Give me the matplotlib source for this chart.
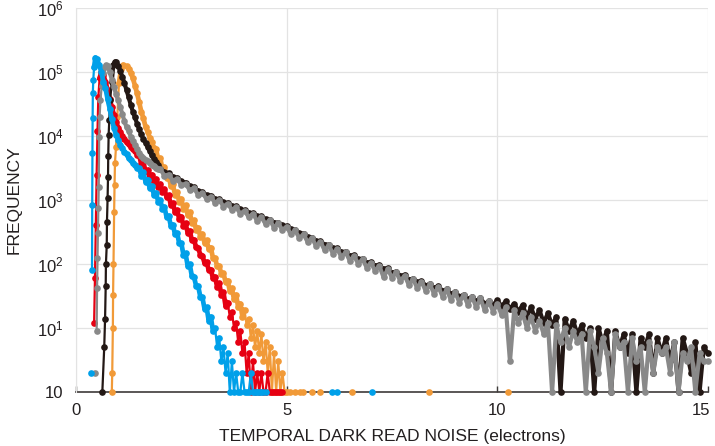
import numpy as np
import matplotlib
matplotlib.use("Agg")
import matplotlib.pyplot as plt
from matplotlib.transforms import ScaledTranslation

nan = np.nan

# ---- data (counts per bin) ----
# blue
blue_rise_x = [0.36, 0.37, 0.38, 0.385, 0.39, 0.395, 0.40, 0.41, 0.43, 0.46]
blue_rise_y = [2, nan, 80, 850, 5400, 19000, 47000, 76000, 120000, 168000]
blue_start, blue_step = 0.50, 0.05
blue_counts = [158000, 128000, 101000, 71000, 56000, 37500, 26800, 18300, 13400, 10300,
               8800, 7300, 6500, 5700, 5200, 4500, 4200, 3750, 3500, 3120,
               3150, 2370, 2700, 1930, 2090, 1530, 1660, 1190, 1290, 945,
               1000, 730, 780, 540, 565, 395, 410, 290, 305, 210,
               210, 140, 146, 94, 99, 64, 63, 46, 45, 31,
               30, 20, 21, 13, 15, 9, 10, 5, 7, 3,
               5, 2, 4, 1, 3, 1, 2, 1, 1, 2,
               1, 1, 1, 2, 1, 1, 1, 1, 1, 1, 1]
blue_lone_x = [6.07, 6.19, 7.02]
blue_lone_y = [1, 1, 1]

# red
red_rise_x = [0.43, 0.45, 0.47, 0.49, 0.51, 0.53, 0.56]
red_rise_y = [12, 60, 400, 2500, 12000, 40000, 80000]
red_start, red_step = 0.60, 0.05
red_counts = [100000, 89000, 71000, 52500, 38000, 28200, 21400, 16600, 13500, 11500,
              10000, 8900, 7950, 7400, 6760, 6300, 5900, 5130, 5000, 3600,
              3900, 2800, 2950, 2200, 2500, 1880, 2140, 1600, 1780, 1330,
              1480, 1110, 1180, 840, 895, 640, 695, 505, 550, 395,
              430, 310, 330, 235, 240, 182, 178, 140, 135, 104,
              108, 80, 82, 60, 63, 44, 50, 33, 36, 22,
              25, 15, 18, 10, 12, 6, 9, 4, 6, 2,
              4, 1, 3, 1, 2, 1, 2, 1, 1, 2,
              1, 1, 1, 1, 1, 1, 1]

# orange
orange_rise_x = [0.85, 0.86, 0.875, 0.88, 0.89, 0.905, 0.915, 0.925, 0.95, 0.98, 1.02, 1.07, 1.12]
orange_rise_y = [1, 2, 10, 33, 100, 660, 1700, 3800, 6800, 20000, 68000, 110000, 129000]
orange_start, orange_step = 1.20, 0.05
orange_counts = [122000, 112000, 97000, 80000, 61000, 46500, 33500, 24000, 18900, 14000,
                 11600, 9400, 8000, 6500, 6200, 4300, 4500, 3100, 3280, 2230,
                 2380, 1650, 1760, 1200, 1310, 930, 1040, 735, 825, 585,
                 645, 440, 480, 340, 370, 265, 295, 215, 235, 170,
                 180, 125, 124, 92, 93, 70, 72, 52, 55, 38,
                 42, 28, 33, 21, 24, 15, 19, 11, 14, 7,
                 11, 5, 9, 4, 8, 3, 6, 2, 5, 1,
                 4, 1, 3, 1, 2, 1]
orange_lone_x = [5.0, 5.08, 5.2, 5.32, 5.39, 5.6, 5.79, 6.54, 8.38, 10.25]
orange_lone_y = [1, 1, 1, 1, 1, 1, 1, 1, 1, 1]

# gray
gray_rise_x = [0.45, 0.47, 0.49, 0.50, 0.51, 0.52, 0.53, 0.54, 0.55, 0.56, 0.58, 0.61, 0.65, 0.68, 0.71]
gray_rise_y = [2, nan, 9, 42, 123, 300, 740, 1600, 9800, 20000, 36000, 60000, 95000, 120000, 129000]
gray_start, gray_step = 0.75, 0.05
gray_counts = [124000, 100000, 76000, 58000, 45000, 36000, 28500, 22000, 17000, 13600,
               11800, 9800, 8500, 7200, 6300, 5500, 4900, 4550, 4250, 4000,
               3750, 3550, 3350, 3150, 3000]
tail_start, tail_step = 2.0, 0.1
gray_tail = [3000, 2400, 2500, 2000, 2150, 1700, 1800, 1420, 1520, 1200,
             1290, 1030, 1130, 900, 1000, 790, 880, 700, 770, 610,
             680, 540, 610, 470, 540, 420, 490, 370, 430, 340,
             385, 290, 335, 255, 290, 220, 255, 190, 222, 165,
             195, 145, 172, 128, 152, 112, 134, 100, 119, 88,
             105, 78, 93, 62, 83, 61, 74, 54, 66, 47,
             58, 42, 53, 38, 48, 34, 44, 31, 40, 27,
             36, 25, 33, 23, 31, 21, 29, 19, 26, 18,
             24, 16, 21, 3, 19, 12, 17, 10, 15, 9,
             13, 8, 12, 1, 11, 6, 10, 5, 9, 6,
             8, 1, 9, 5, 2, 7, 4, 1, 8, 5,
             6, 1, 7, 3, 5, 1, 6, 2, 5, 4,
             5, 2, 6, 1, 4, 3, 5, 1, 4, 3,
             3]

# black
black_rise_x = [0.625, 0.67, 0.69, 0.705, 0.71, 0.73, 0.735, 0.75, 0.76, 0.765, 0.775, 0.79, 0.81, 0.85, 0.885, 0.925]
black_rise_y = [1, 5, 14, 45, 100, 200, 460, 1070, 2300, 4800, 10500, 17800, 36000, 71000, 129000, 145000]
black_start, black_step = 0.95, 0.05
black_counts = [142000, 126000, 104000, 84000, 67000, 52000, 40000, 30500, 24000, 19500,
                15500, 12800, 10600, 9000, 7800, 6700, 5800, 5000, 4400, 3900, 3500]
black_tail = [3100, 2730, 2630, 2300, 2210, 1960, 1870, 1650, 1580, 1390,
              1320, 1190, 1170, 1040, 1020, 920, 900, 810, 795, 715,
              695, 630, 620, 560, 555, 500, 495, 445, 440, 400,
              393, 350, 340, 303, 299, 263, 259, 230, 227, 201,
              199, 175, 176, 154, 156, 135, 137, 119, 121, 105,
              107, 94, 97, 83, 86, 73, 76, 65, 68, 57,
              59, 52, 54, 46, 49, 42, 45, 38, 40, 34,
              37, 31, 33, 28, 31, 26, 29, 24, 26, 23,
              27, 22, 26, 20, 24, 18, 23, 15, 21, 14,
              19, 12, 17, 11, 15, 1, 14, 9, 13, 8,
              11, 7, 10, 1, 10, 6, 9, 1, 9, 5,
              8, 4, 8, 1, 7, 5, 8, 2, 7, 4,
              7, 3, 6, 1, 7, 4, 2, 6, 1, 5,
              4]

y_ticks = [1, 10, 100, 1e3, 1e4, 1e5, 1e6]
y_ticklabels = ["10", "10$^1$", "10$^2$", "10$^3$", "10$^4$", "10$^5$", "10$^6$"]
x_ticks = [0, 5, 10, 15]

BLUE, RED, ORANGE, BLACK, GRAY = "#00a0e9", "#e60012", "#f19a38", "#231815", "#898989"
TXT = "#231f20"
MS, LW = 4.8, 1.6


def bins(start, step, counts):
    return list(start + step * np.arange(len(counts))), list(counts)


def series(rise_x, rise_y, *parts):
    xs, ys = list(rise_x), list(rise_y)
    for bx, by in parts:
        xs += bx
        ys += by
    return np.array(xs), np.array(ys, dtype=float)


plt.rcParams["font.family"] = ["Liberation Sans", "DejaVu Sans"]
plt.rcParams["mathtext.default"] = "regular"

fig = plt.figure(figsize=(7.15, 4.46), dpi=100)
ax = fig.add_axes([76 / 715, 54 / 446, 632 / 715, 384 / 446])

# colour, data, x-range where the original's bins are so dense they merge into a band, band width
curves = [
    (ORANGE, series(orange_rise_x, orange_rise_y, bins(orange_start, orange_step, orange_counts)), (1.0, 4.0), 3.4),
    (RED, series(red_rise_x, red_rise_y, bins(red_start, red_step, red_counts)), (0.56, 3.6), 3.4),
    (BLACK, series(black_rise_x, black_rise_y, bins(black_start, black_step, black_counts),
                   bins(tail_start, tail_step, black_tail)), (0.85, 15.0), 3.0),
    (GRAY, series(gray_rise_x, gray_rise_y, bins(gray_start, gray_step, gray_counts),
                  bins(tail_start, tail_step, gray_tail)), (0.6, 15.0), 3.0),
    (BLUE, series(blue_rise_x, blue_rise_y, bins(blue_start, blue_step, blue_counts)), (0.42, 3.3), 3.4),
]
for i, (c, (x, y), (d0, d1), band) in enumerate(curves):
    ax.plot(x, y, "-o", color=c, lw=LW, ms=MS, mec="none", clip_on=False, zorder=3 + i)
    m = (x >= d0) & (x <= d1)
    ax.plot(x[m], y[m], "-", color=c, lw=band, solid_joinstyle="round", clip_on=False, zorder=3 + i)

ax.plot(orange_lone_x, orange_lone_y, "o", color=ORANGE, ms=MS, mec="none", clip_on=False, zorder=3)
ax.plot(blue_lone_x, blue_lone_y, "o", color=BLUE, ms=MS, mec="none", clip_on=False, zorder=7)

ax.set_yscale("log")
ax.set_xlim(0, 15)
ax.set_ylim(1, 1e6)
ax.set_xticks(x_ticks)
ax.set_yticks(y_ticks)
ax.set_yticklabels(y_ticklabels)
ax.minorticks_off()
ax.grid(True, color="#e3e3e3", lw=0.9)
ax.set_axisbelow(True)

for s in ["top", "right"]:
    ax.spines[s].set_visible(False)
ax.spines["left"].set_color("#e3e3e3")
ax.spines["bottom"].set_color("#3e3a39")
ax.spines["bottom"].set_linewidth(1.2)
ax.spines["bottom"].set_zorder(2)

ax.tick_params(axis="x", direction="in", length=4, width=1, color="#3e3a39",
               labelsize=12, labelcolor=TXT, pad=8)
ax.tick_params(axis="y", length=0, labelsize=12, labelcolor=TXT, pad=9)

# the "15" sits flush against the right edge in the original
last = ax.get_xticklabels()[-1]
last.set_transform(last.get_transform() + ScaledTranslation(-5 / 72, 0, fig.dpi_scale_trans))

ax.set_xlabel("TEMPORAL DARK READ NOISE (electrons)", fontsize=12.5, color=TXT, labelpad=8)
ax.set_ylabel("FREQUENCY", fontsize=12.5, color=TXT, labelpad=11)

fig.savefig("out.png", dpi=100)
